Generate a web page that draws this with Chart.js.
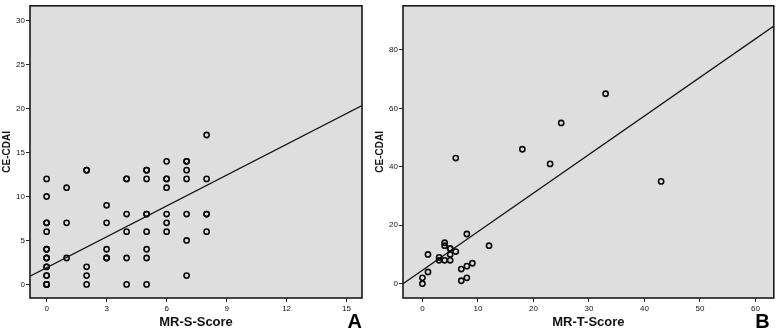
<!DOCTYPE html>
<html>
<head>
<meta charset="utf-8">
<script src="https://cdn.jsdelivr.net/npm/chart.js@4.4.1/dist/chart.umd.min.js"></script>
<style>
  body { margin: 0; background: #fff; }
  .panel { position: absolute; top: 0; }
</style>
</head>
<body>
<div class="panel" style="left:0"><canvas id="chart-a" width="370" height="330"></canvas></div>
<div class="panel" style="left:370px"><canvas id="chart-b" width="408" height="330"></canvas></div>
<script>
/* global Chart */

// panel A: MR-S-Score vs CE-CDAI
const sScore = [0, 0, 0, 0, 0, 0, 0, 0, 0, 0, 0, 0, 0, 0, 0, 0,
  1, 1, 1,
  2, 2, 2, 2, 2,
  3, 3, 3, 3, 3,
  4, 4, 4, 4, 4, 4,
  5, 5, 5, 5, 5, 5, 5, 5, 5,
  6, 6, 6, 6, 6, 6, 6,
  7, 7, 7, 7, 7, 7, 7,
  8, 8, 8, 8, 8]
const sCdai = [12, 10, 7, 7, 6, 4, 4, 3, 3, 2, 2, 1, 1, 0, 0, 0,
  11, 7, 3,
  13, 13, 2, 1, 0,
  9, 7, 4, 3, 3,
  12, 12, 8, 6, 3, 0,
  13, 13, 12, 8, 8, 6, 4, 3, 0,
  14, 12, 12, 11, 8, 7, 6,
  14, 14, 13, 12, 8, 5, 1,
  17, 12, 8, 8, 6]
const sFit = { intercept: 1.9, slope: 1.17 }
const sXTicks = [0, 3, 6, 9, 12, 15]
const sYTicks = [0, 5, 10, 15, 20, 25, 30]

// panel B: MR-T-Score vs CE-CDAI
const tScore = [0, 0, 1, 1, 3, 3, 4, 4, 4, 5, 5, 5, 5, 6, 6, 7, 7, 8, 8, 8, 9, 12, 18, 23, 25, 33, 43]
const tCdai = [0, 2, 4, 10, 9, 8, 14, 13, 8, 12, 12, 10, 8, 11, 43, 5, 1, 17, 6, 2, 7, 13, 46, 41, 55, 65, 35]
const tFit = { intercept: 4.62, slope: 1.32 }
const tXTicks = [0, 10, 20, 30, 40, 50, 60]
const tYTicks = [0, 20, 40, 60, 80]

const FONT = "'Liberation Sans', Arial, sans-serif"

const framePlugin = {
  id: 'frame',
  beforeDraw (chart) {
    const { ctx, chartArea: a } = chart
    ctx.save()
    ctx.fillStyle = '#dedede'
    ctx.fillRect(a.left, a.top, a.width, a.height)
    ctx.restore()
  },
  afterDraw (chart, args, opts) {
    const { ctx, chartArea: a } = chart
    ctx.save()
    ctx.strokeStyle = '#1a1a1a'
    ctx.lineWidth = 1.6
    ctx.strokeRect(a.left, a.top, a.width, a.height)
    ctx.fillStyle = '#000'
    ctx.font = `bold 20px ${FONT}`
    ctx.textAlign = 'right'
    ctx.textBaseline = 'alphabetic'
    ctx.fillText(opts.letter, a.right + opts.dx, 328)
    ctx.restore()
  }
}

class ScatterPanel {
  constructor (elementId, options) {
    this.elementId = elementId
    this.options = Object.assign({}, options)
    const o = this.options
    const el = document.getElementById(this.elementId)
    if (!el) {
      console.error(`no element found with id - ${this.elementId}`)
      return
    }
    const points = o.x.map((v, i) => ({ x: v, y: o.y[i] }))
    const fitLine = [o.xMin, o.xMax].map(v => ({ x: v, y: o.fit.intercept + o.fit.slope * v }))
    const config = {
      type: 'scatter',
      data: {
        datasets: [{
          data: points,
          pointRadius: 2.6,
          pointHoverRadius: 2.6,
          borderWidth: 1.6,
          borderColor: '#0a0a0a',
          backgroundColor: 'rgba(0,0,0,0)'
        }, {
          type: 'line',
          data: fitLine,
          showLine: true,
          pointRadius: 0,
          borderColor: '#111',
          borderWidth: 1.3,
          fill: false
        }]
      },
      plugins: [framePlugin],
      options: {
        responsive: false,
        animation: false,
        devicePixelRatio: 1,
        layout: { padding: { top: 2, right: o.padRight, left: 0, bottom: 0 } },
        plugins: {
          legend: { display: false },
          tooltip: { enabled: false },
          frame: { letter: o.letter, dx: o.letterDx }
        },
        scales: {
          x: {
            type: 'linear',
            min: o.xMin,
            max: o.xMax,
            afterBuildTicks: s => { s.ticks = o.xTicks.map(v => ({ value: v })) },
            afterFit: s => { s.height = 32 },
            grid: { drawOnChartArea: false, drawTicks: true, tickLength: 4, color: '#222' },
            border: { display: false },
            ticks: { padding: 2, color: '#111', font: { family: FONT, size: 8 } },
            title: {
              display: true,
              text: o.xTitle,
              color: '#111',
              padding: { top: 0, bottom: 0 },
              font: { family: FONT, size: 13, weight: 'bold', lineHeight: 1.1 }
            }
          },
          y: {
            type: 'linear',
            min: o.yMin,
            max: o.yMax,
            afterBuildTicks: s => { s.ticks = o.yTicks.map(v => ({ value: v })) },
            afterFit: s => { s.width = o.yWidth },
            grid: { drawOnChartArea: false, drawTicks: true, tickLength: 4, color: '#222' },
            border: { display: false },
            ticks: { padding: 1, color: '#111', font: { family: FONT, size: 8 } },
            title: {
              display: true,
              text: 'CE-CDAI',
              color: '#111',
              padding: { top: o.yTitlePad, bottom: 0 },
              font: { family: FONT, size: 10, weight: 'bold', lineHeight: 1.2 }
            }
          }
        }
      }
    }
    this.chart = new Chart(el, config)
  }
}

const panelA = new ScatterPanel('chart-a', {
  x: sScore,
  y: sCdai,
  fit: sFit,
  xTicks: sXTicks,
  yTicks: sYTicks,
  xMin: -0.83,
  xMax: 15.77,
  yMin: -1.55,
  yMax: 31.7,
  xTitle: 'MR-S-Score',
  letter: 'A',
  letterDx: 0,
  padRight: 8,
  yWidth: 30,
  yTitlePad: 1.5
})

const panelB = new ScatterPanel('chart-b', {
  x: tScore,
  y: tCdai,
  fit: tFit,
  xTicks: tXTicks,
  yTicks: tYTicks,
  xMin: -3.5,
  xMax: 63.3,
  yMin: -4.9,
  yMax: 95.1,
  xTitle: 'MR-T-Score',
  letter: 'B',
  letterDx: -4,
  padRight: 2,
  yWidth: 33,
  yTitlePad: 4.5
})
</script>
</body>
</html>
